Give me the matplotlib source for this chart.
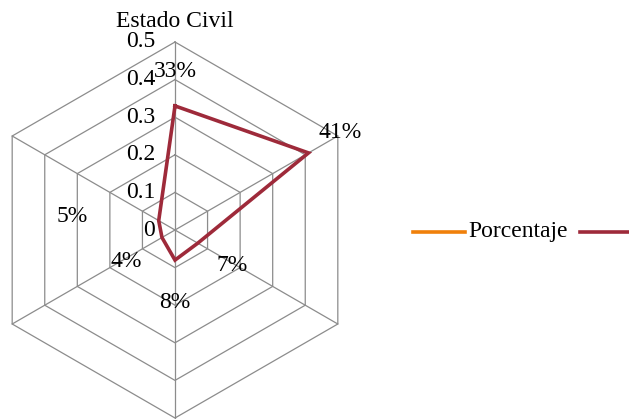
import numpy as np
import matplotlib.pyplot as plt
from matplotlib.lines import Line2D

# datos del gráfico radial
valores = [0.33, 0.41, 0.07, 0.08, 0.04, 0.05]
etiquetas = ['33%', '41%', '7%', '8%', '4%', '5%']
niveles = [0.1, 0.2, 0.3, 0.4, 0.5]
ticks = [0, 0.1, 0.2, 0.3, 0.4, 0.5]
titulo = 'Estado Civil'
serie = 'Porcentaje'

plt.rcParams['font.family'] = ['Liberation Serif', 'DejaVu Serif']
fs = 17

fig = plt.figure(figsize=(6.29, 4.19), dpi=100)
ax = fig.add_axes([0, 0, 1, 1])
ax.set_xlim(-175 / 376, 454 / 376)
ax.set_ylim(-189 / 376, 230 / 376)
ax.axis('off')

n = len(valores)
ang = np.pi / 2 - np.arange(n) * 2 * np.pi / n
ux, uy = np.cos(ang), np.sin(ang)

gris = '#8c8c8c'
# hexágonos de la rejilla
for r in niveles:
    ax.plot(np.append(ux, ux[0]) * r, np.append(uy, uy[0]) * r, color=gris, lw=0.9, zorder=1)
# radios
rmax = max(niveles)
for i in range(n):
    ax.plot([0, ux[i] * rmax], [0, uy[i] * rmax], color=gris, lw=0.9, zorder=1)

# etiquetas del eje
for t in ticks:
    ax.text(-20 / 376, t, f'{t:g}', ha='right', va='center', fontsize=fs)

# serie
v = np.array(valores)
ax.plot(np.append(ux * v, ux[0] * v[0]), np.append(uy * v, uy[0] * v[0]),
        color='#9e2a3a', lw=2.6, zorder=3, solid_joinstyle='miter')

# etiquetas de datos
desp = [(0, 34), (32, 20), (34, -22), (0, -42), (-36, -24), (-87, 4)]
for i in range(n):
    ax.annotate(etiquetas[i], (ux[i] * v[i], uy[i] * v[i]), xytext=desp[i],
                textcoords='offset pixels', ha='center', va='center', fontsize=fs, zorder=4)

ax.text(0, 208 / 376, titulo, ha='center', va='center', fontsize=fs)

# leyenda
yl = 1 - 232 / 419
fig.add_artist(Line2D([413 / 629, 465 / 629], [yl, yl], color='#f0800a', lw=2.6))
fig.text(468 / 629, yl, serie, ha='left', va='center', fontsize=fs)
fig.add_artist(Line2D([580 / 629, 1.0], [yl, yl], color='#9e2a3a', lw=2.6))

fig.savefig('out.png', dpi=100)
